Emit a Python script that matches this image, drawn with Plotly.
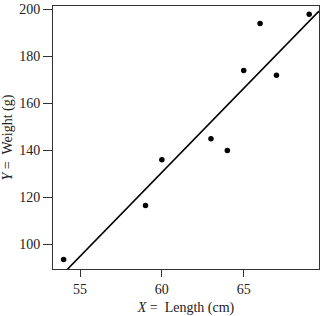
import numpy as np
import plotly.graph_objects as go

length_cm = [54, 59, 60, 63, 64, 65, 66, 67, 69]
weight_g = [93.5, 116.5, 136, 145, 140, 174, 194, 172, 198]
x_ticks = [55, 60, 65]
y_ticks = [100, 120, 140, 160, 180, 200]

x_range = [53.35, 69.6]
y_range = [89.5, 201.5]

slope, intercept = np.polyfit(length_cm, weight_g, 1)
line_x = np.array(x_range)
line_y = slope * line_x + intercept

font = "Liberation Serif, Times New Roman, serif"

fig = go.Figure()
fig.add_trace(go.Scatter(x=line_x, y=line_y, mode="lines",
                         line=dict(color="black", width=1.6), hoverinfo="skip"))
fig.add_trace(go.Scatter(x=length_cm, y=weight_g, mode="markers",
                         marker=dict(color="black", size=5.5), cliponaxis=False))

axis_common = dict(showgrid=False, zeroline=False, showline=True, mirror=True,
                   linecolor="#333333", linewidth=1, ticks="outside",
                   tickcolor="#333333", tickwidth=1, ticklabeloverflow="allow",
                   tickfont=dict(family=font, size=14, color="#222222"))

fig.update_xaxes(range=x_range, tickvals=x_ticks, ticklen=7,
                 title=dict(text="<i>X</i> =  Length (cm)", font=dict(family=font, size=14, color="#222222"), standoff=6),
                 **axis_common)
fig.update_yaxes(range=y_range, tickvals=y_ticks, ticklen=9,
                 title=dict(text="<i>Y</i> =  Weight (g)", font=dict(family=font, size=14, color="#222222"), standoff=4),
                 **axis_common)

fig.update_layout(width=322, height=316, showlegend=False,
                  margin=dict(l=53, r=2, t=3, b=47),
                  plot_bgcolor="white", paper_bgcolor="white")

fig.write_html("out.html")
